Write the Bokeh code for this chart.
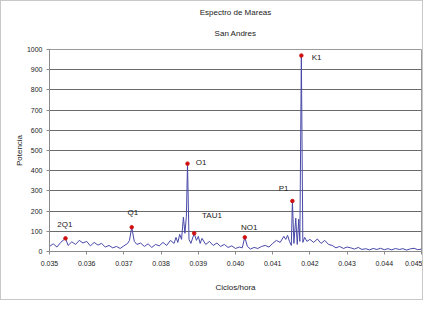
from bokeh.plotting import figure
from bokeh.models import Title, Range1d, FixedTicker, NumeralTickFormatter, ColumnDataSource, LabelSet
from bokeh.core.properties import value
from bokeh.embed import file_html
from bokeh.resources import INLINE

# ---- data ----
freq = [0.03500, 0.03510, 0.03520, 0.03530, 0.03543, 0.03550, 0.03560, 0.03570, 0.03580, 0.03590,
        0.03600, 0.03610, 0.03620, 0.03630, 0.03640, 0.03650, 0.03660, 0.03670, 0.03680, 0.03690,
        0.03700, 0.03710, 0.03715, 0.03721, 0.03728, 0.03735, 0.03745, 0.03755, 0.03765, 0.03775,
        0.03785, 0.03795, 0.03805, 0.03815, 0.03825, 0.03835, 0.03840, 0.03845, 0.03850, 0.03855,
        0.03860, 0.03864, 0.03868, 0.03871, 0.03875, 0.03880, 0.03889, 0.03895, 0.03900, 0.03905,
        0.03910, 0.03920, 0.03930, 0.03940, 0.03950, 0.03960, 0.03970, 0.03980, 0.03990, 0.04000,
        0.04010, 0.04018, 0.04025, 0.04032, 0.04040, 0.04050, 0.04060, 0.04070, 0.04080, 0.04090,
        0.04100, 0.04110, 0.04120, 0.04130, 0.04135, 0.04140, 0.04145, 0.04150, 0.04153, 0.04157,
        0.04162, 0.04166, 0.04170, 0.04173, 0.04177, 0.04181, 0.04186, 0.04192, 0.04200, 0.04210,
        0.04220, 0.04230, 0.04240, 0.04250, 0.04260, 0.04270, 0.04280, 0.04290, 0.04300, 0.04310,
        0.04320, 0.04330, 0.04340, 0.04350, 0.04360, 0.04370, 0.04380, 0.04390, 0.04400, 0.04410,
        0.04420, 0.04430, 0.04440, 0.04450, 0.04460, 0.04470, 0.04480, 0.04490, 0.04500]
power = [25, 38, 22, 45, 65, 30, 48, 35, 55, 42,
         50, 28, 45, 32, 40, 22, 30, 18, 25, 15,
         28, 40, 55, 120, 50, 35, 42, 25, 38, 20,
         35, 28, 45, 30, 55, 40, 70, 45, 85, 60,
         170, 90, 175, 435, 60, 40, 90, 55, 75, 40,
         65, 35, 50, 30, 42, 25, 35, 20, 28, 15,
         22, 18, 70, 25, 12, 20, 15, 25, 30, 22,
         40, 55, 45, 75, 60, 80, 50, 30, 250, 40,
         165, 35, 160, 50, 970, 45, 70, 50, 60, 45,
         62, 40, 55, 35, 30, 18, 25, 15, 22, 18,
         12, 20, 10, 14, 8, 15, 10, 16, 9, 14,
         8, 15, 10, 14, 7, 13, 16, 9, 12]

const_names = ["2Q1", "Q1", "O1", "TAU1", "NO1", "P1", "K1"]
const_freq = [0.03543, 0.03721, 0.03871, 0.03889, 0.04025, 0.04153, 0.04177]
const_power = [65, 120, 435, 90, 70, 250, 970]
label_x = [0.03521, 0.03710, 0.03893, 0.03910, 0.04015, 0.04116, 0.04205]
label_y = [135, 195, 440, 180, 120, 310, 960]

x_ticks = [0.035, 0.036, 0.037, 0.038, 0.039, 0.040, 0.041, 0.042, 0.043, 0.044, 0.045]
y_ticks = [0, 100, 200, 300, 400, 500, 600, 700, 800, 900, 1000]

FONT = "Liberation Sans"

p = figure(width=423, height=300, output_backend="svg", toolbar_location=None,
           x_range=Range1d(0.035, 0.045), y_range=Range1d(0, 1000),
           min_border_left=48, min_border_right=3, min_border_top=48, min_border_bottom=50)
p.styles = {"border": "1px solid #c8c8c8"}
p.background_fill_color = "white"
p.outline_line_color = "#9a9a9a"
p.outline_line_width = 1

p.add_layout(Title(text="San Andres", align="center", text_font=FONT, text_font_size="8px",
                   text_font_style="normal", text_color="#222222", standoff=24), "above")
p.add_layout(Title(text="Espectro de Mareas", align="center", text_font=FONT, text_font_size="8px",
                   text_font_style="normal", text_color="#222222", standoff=-4), "above")

p.line(freq, power, line_color="#4848a8", line_width=1)
p.scatter(const_freq, const_power, marker="circle", size=3.5, fill_color="#d01010", line_color="#d01010")

src = ColumnDataSource(dict(x=label_x, y=label_y, t=const_names))
p.add_layout(LabelSet(x="x", y="y", text="t", source=src, text_font_size="8px",
                      text_font=value(FONT), text_color="#222222", text_baseline="middle"))

p.xgrid.grid_line_color = None
p.ygrid.grid_line_color = "#6a6a6a"
p.ygrid.grid_line_width = 1

p.xaxis.ticker = FixedTicker(ticks=x_ticks)
p.yaxis.ticker = FixedTicker(ticks=y_ticks)
p.xaxis.formatter = NumeralTickFormatter(format="0.000")
for ax in (p.xaxis, p.yaxis):
    ax.axis_line_color = "#8a8a8a"
    ax.major_tick_line_color = "#8a8a8a"
    ax.major_tick_in = 0
    ax.major_tick_out = 3
    ax.minor_tick_line_color = None
    ax.major_label_text_font = FONT
    ax.major_label_text_font_size = "7px"
    ax.major_label_text_color = "#222222"
    ax.axis_label_text_font = FONT
    ax.axis_label_text_font_size = "8px"
    ax.axis_label_text_font_style = "normal"
    ax.axis_label_text_color = "#222222"
p.xaxis.axis_label = "Ciclos/hora"
p.yaxis.axis_label = "Potencia"
p.xaxis.major_label_standoff = 6
p.xaxis.axis_label_standoff = 14
p.yaxis.major_label_standoff = 4
p.yaxis.axis_label_standoff = 0

open("out.html", "w").write(file_html(p, INLINE))
